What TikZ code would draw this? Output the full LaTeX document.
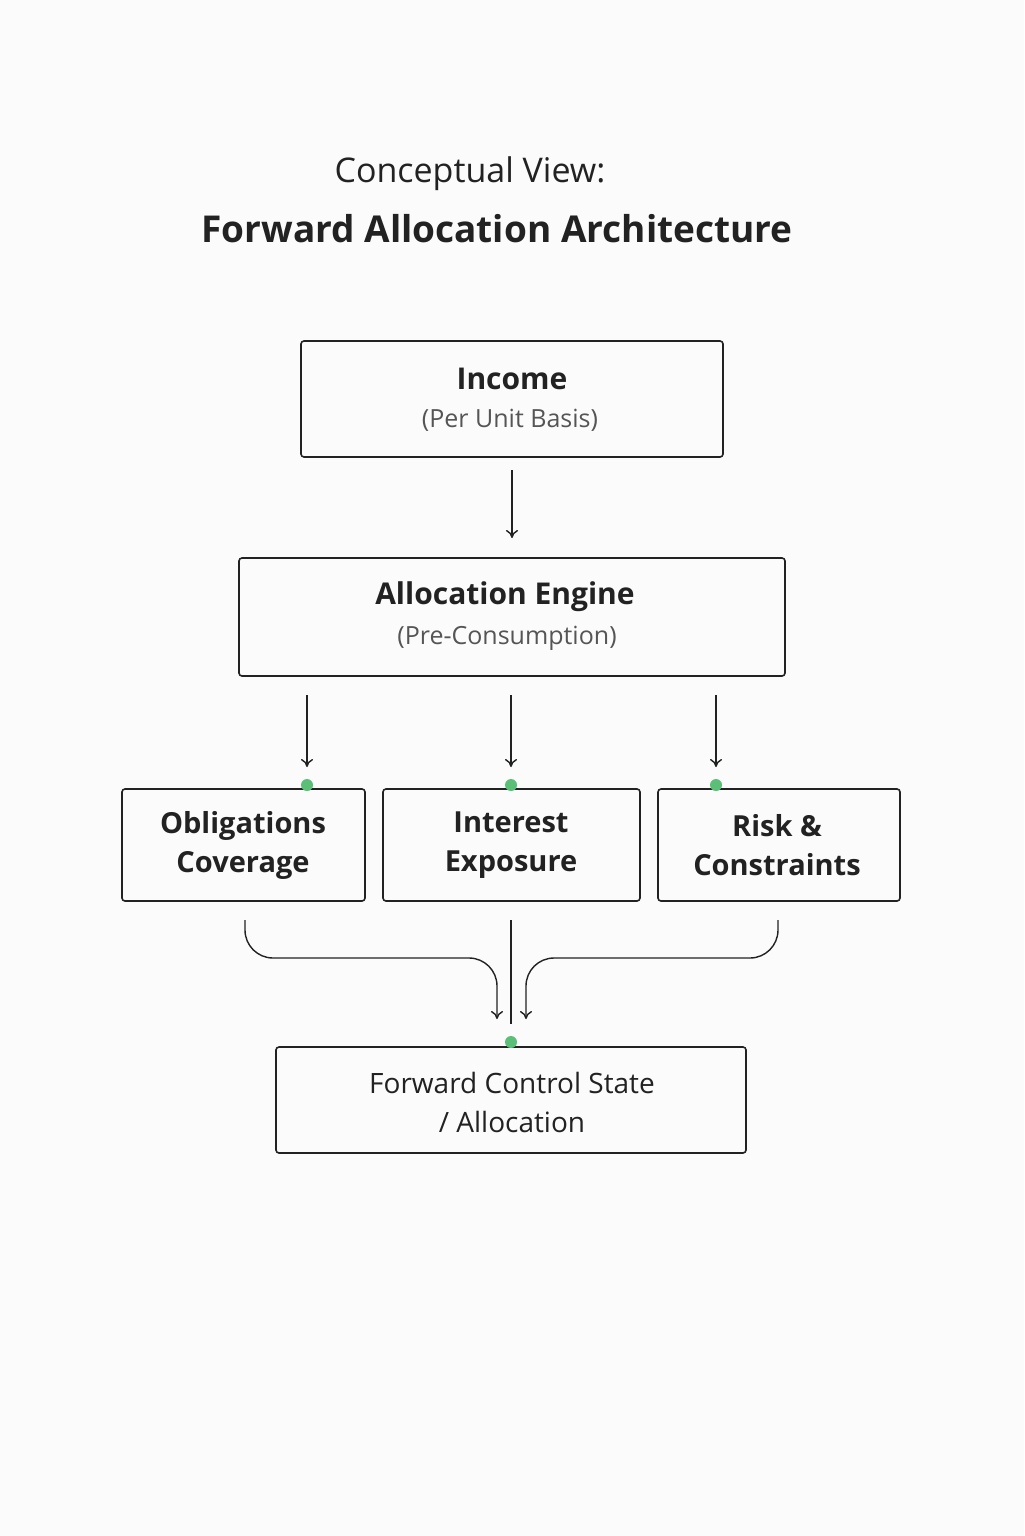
\documentclass[tikz,border=0pt]{standalone}
\usepackage{fontspec}
\setmainfont{Open Sans}
\usetikzlibrary{arrows.meta}
\definecolor{bg}{HTML}{FBFBFB}
\definecolor{dot}{HTML}{5BBF78}
\definecolor{ink}{HTML}{222222}
\definecolor{sub}{HTML}{555555}
\begin{document}
\begin{tikzpicture}[x=0.5pt,y=-0.5pt,
  box/.style={draw=ink,line width=0.8pt,rounded corners=1.5pt,fill=bg},
  ttl/.style={font=\fontsize{15}{18}\selectfont\bfseries,text=ink,align=center},
  mid/.style={font=\fontsize{14}{19.5}\selectfont,text=ink,align=center},
  subt/.style={font=\fontsize{12.5}{15}\selectfont,text=sub},
  arr/.style={draw=ink,line width=0.7pt,-{To[length=4pt,width=6pt]}},
  ln/.style={draw=ink,line width=0.7pt},
  gdot/.style={circle,fill=dot,inner sep=0pt,minimum size=6pt}]
\fill[bg] (0,0) rectangle (1024,1536);
\node[font=\fontsize{17}{20}\selectfont,text=ink] (t1) at (470,174) {Conceptual View:};
\node[font=\fontsize{18.5}{22}\selectfont\bfseries,text=ink] (t2) at (497,229) {Forward Allocation Architecture};

\draw[box] (301,341) rectangle (723,457);
\coordinate (inc) at (512,399);
\node[ttl] (incT) at (512,379) {Income};
\node[subt] (incS) at (510,420) {(Per Unit Basis)};

\draw[box] (239,558) rectangle (785,676);
\node[ttl] (engT) at (505,597) {Allocation Engine};
\node[subt] (engS) at (507,638) {(Pre-Consumption)};

\draw[box] (122,789) rectangle (365,901);
\node[mid,font=\fontsize{14.5}{19.5}\selectfont\bfseries] (ob) at (243,845) {Obligations\\Coverage};
\draw[box] (383,789) rectangle (640,901);
\node[mid,font=\fontsize{14.5}{19.5}\selectfont\bfseries] (in) at (511,845) {Interest\\Exposure};
\draw[box] (658,789) rectangle (900,901);
\node[mid,font=\fontsize{14.5}{19.5}\selectfont\bfseries] (rk) at (777,845) {Risk \&\\Constraints};

\draw[box] (276,1047) rectangle (746,1153);
\node[mid] (fw) at (512,1102) {Forward Control State\\/ Allocation};

\coordinate (a0) at (512,470); \coordinate (a1) at (512,538);
\draw[arr] (a0) -- (a1);
\foreach \x/\n in {307/o,511/i,716/r}{
  \coordinate (s\n) at (\x,695); \coordinate (e\n) at (\x,767);
  \draw[arr] (s\n) -- (e\n);
  \node[gdot] (d\n) at (\x,785) {};
}
\coordinate (l0) at (245,920); \coordinate (l1) at (497,1019);
\draw[arr,rounded corners=14pt] (l0) -- (245,958) -- (497,958) -- (l1);
\coordinate (r0) at (778,920); \coordinate (r1) at (526,1019);
\draw[arr,rounded corners=14pt] (r0) -- (778,958) -- (526,958) -- (r1);
\coordinate (c0) at (511,920); \coordinate (c1) at (511,1024);
\draw[ln] (c0) -- (c1);
\node[gdot] (df) at (511,1042) {};
\end{tikzpicture}
\end{document}
